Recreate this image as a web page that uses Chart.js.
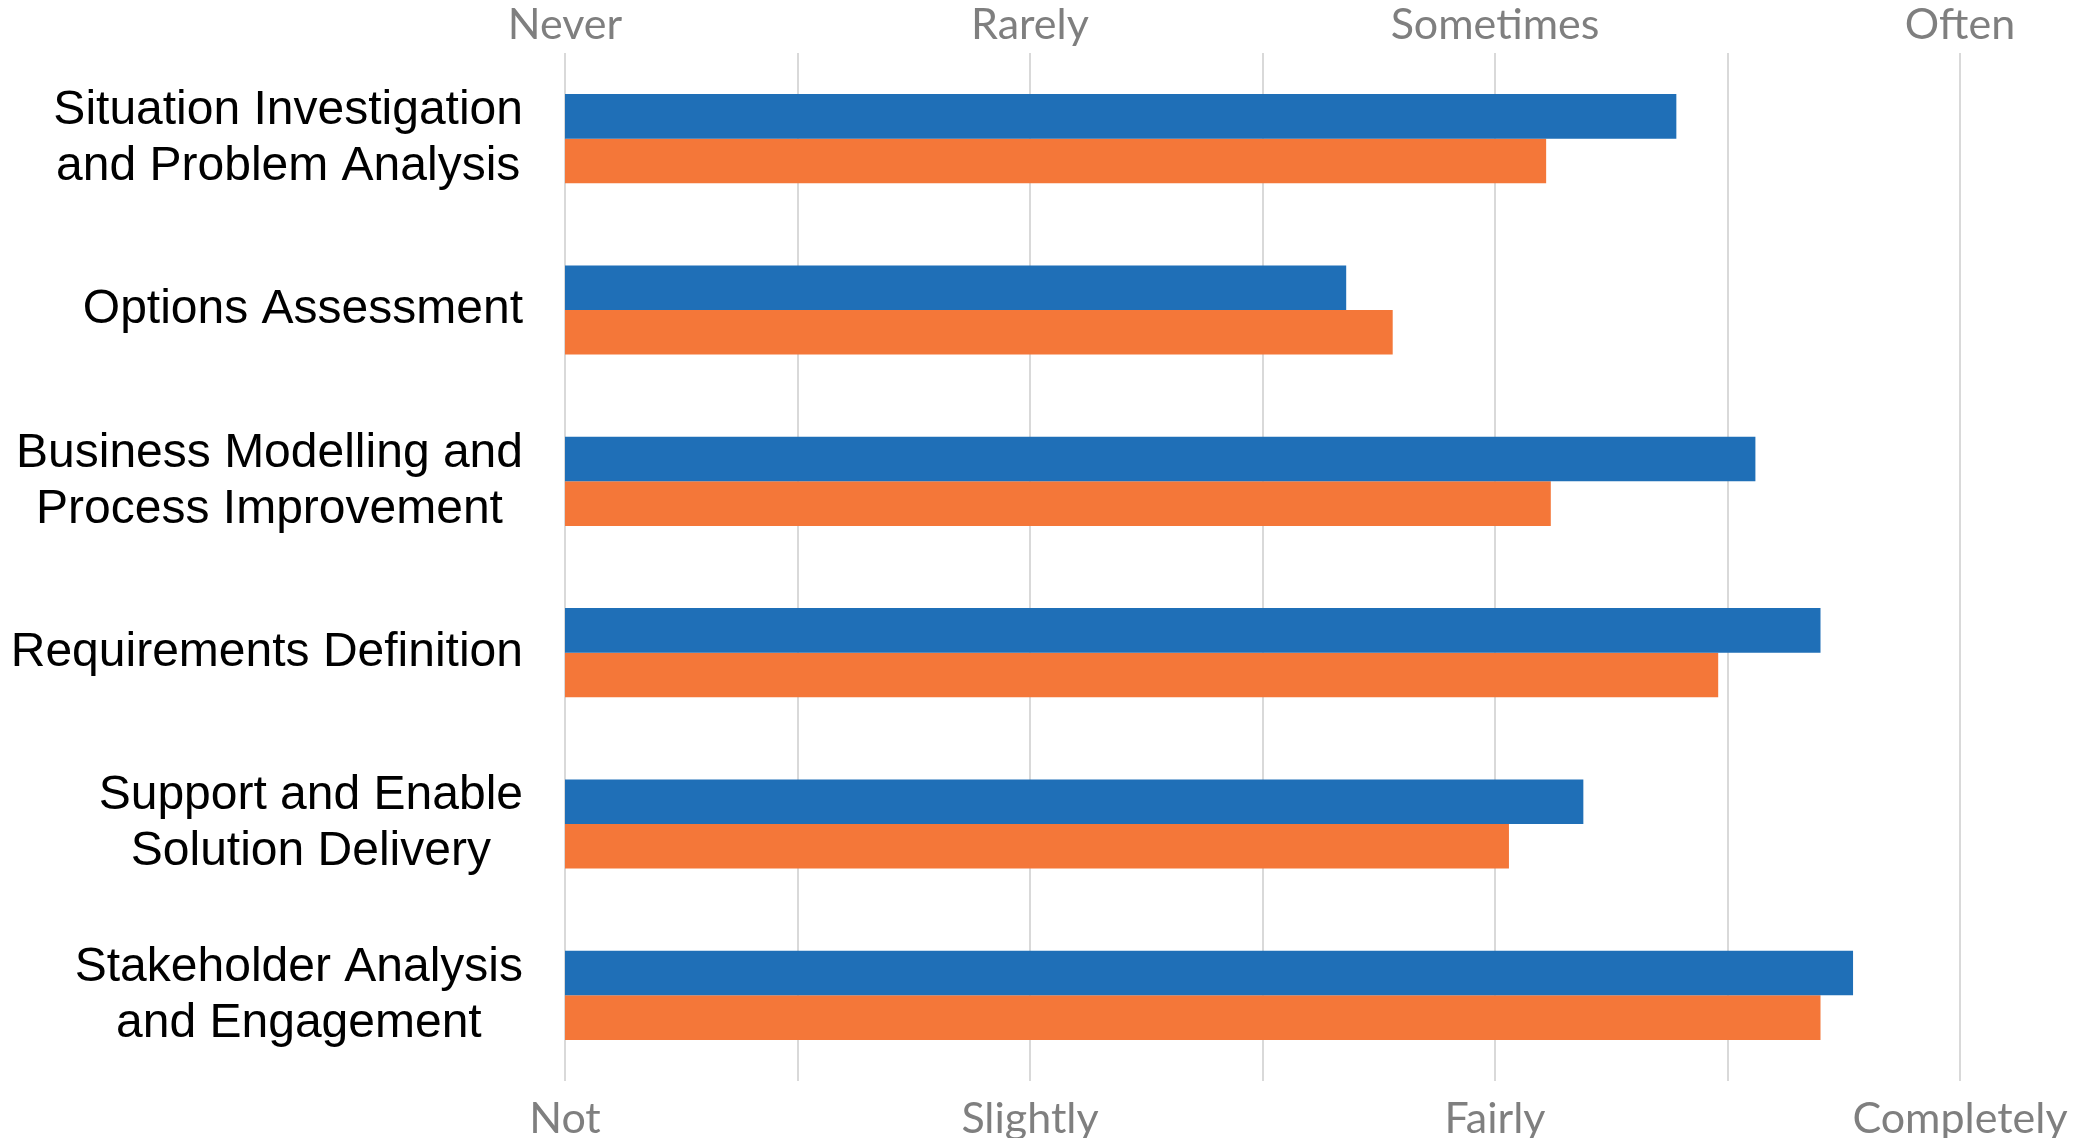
<!DOCTYPE html>
<html>
<head>
<meta charset="utf-8">
<script src="https://cdn.jsdelivr.net/npm/chart.js@4.4.1/dist/chart.umd.min.js"></script>
<style>
  html, body { margin: 0; padding: 0; background: #fff; }
  #wrap { width: 2077px; height: 1138px; }
</style>
</head>
<body>
<div id="wrap"><canvas id="grafico" width="2077" height="1138"></canvas></div>
<script>
const categorias = [
    ['Situation Investigation', 'and Problem Analysis'],
    ['Options Assessment'],
    ['Business Modelling and', 'Process Improvement'],
    ['Requirements Definition'],
    ['Support and Enable', 'Solution Delivery'],
    ['Stakeholder Analysis', 'and Engagement']
]
const frequencia = [3.39, 2.68, 3.56, 3.70, 3.19, 3.77]
const competencia = [3.11, 2.78, 3.12, 3.48, 3.03, 3.70]

const rotulosTopo = ['Never', 'Rarely', 'Sometimes', 'Often']
const rotulosBase = ['Not', 'Slightly', 'Fairly', 'Completely']

const corTick = '#7f7f7f'
const fonteTick = { family: 'Lato', size: 43 }

function rotulo(lista) {
    return (valor, i) => (i % 2 === 0 ? lista[i / 2] : '')
}

function ajustaX(s, altura) {
    s.height = altura
    s.paddingLeft = 0
    s.paddingRight = 0
}

// rótulos do eixo y: bloco alinhado à direita, linhas centralizadas
const rotulosY = {
    id: 'rotulosY',
    afterDraw(chart) {
        const c = chart.ctx
        const y = chart.scales.y
        const direita = chart.chartArea.left - 42
        c.save()
        c.font = '48px "Liberation Sans", Arial, sans-serif'
        c.fillStyle = '#000'
        c.textAlign = 'center'
        c.textBaseline = 'middle'
        categorias.forEach((linhas, i) => {
            const larg = Math.max(...linhas.map(l => c.measureText(l).width))
            const cx = direita - larg / 2
            const cy = y.getPixelForValue(i)
            linhas.forEach((l, j) => {
                c.fillText(l, cx, cy + (j - (linhas.length - 1) / 2) * 56)
            })
        })
        c.restore()
    }
}

const grafico = new Chart(document.getElementById('grafico'), {
    type: 'bar',
    data: {
        labels: categorias,
        datasets: [{
            label: 'Frequency',
            data: frequencia,
            backgroundColor: '#1f6fb7',
            categoryPercentage: 0.52,
            barPercentage: 1.0
        }, {
            label: 'Competence',
            data: competencia,
            backgroundColor: '#f47739',
            categoryPercentage: 0.52,
            barPercentage: 1.0
        }]
    },
    options: {
        indexAxis: 'y',
        responsive: false,
        animation: false,
        layout: { padding: { right: 117, left: 0, top: 0, bottom: 0 } },
        plugins: {
            legend: { display: false },
            tooltip: { enabled: false }
        },
        scales: {
            x: {
                position: 'bottom',
                min: 1,
                max: 4,
                ticks: {
                    stepSize: 0.5,
                    autoSkip: false,
                    maxRotation: 0,
                    color: corTick,
                    font: fonteTick,
                    padding: 12,
                    callback: rotulo(rotulosBase)
                },
                grid: { color: '#d9d9d9', lineWidth: 2, drawTicks: false },
                border: { display: false },
                afterFit: s => ajustaX(s, 57)
            },
            xTopo: {
                position: 'top',
                min: 1,
                max: 4,
                ticks: {
                    stepSize: 0.5,
                    autoSkip: false,
                    maxRotation: 0,
                    color: corTick,
                    font: fonteTick,
                    padding: 2,
                    callback: rotulo(rotulosTopo)
                },
                grid: { display: false, drawTicks: false },
                border: { display: false },
                afterFit: s => ajustaX(s, 53)
            },
            y: {
                ticks: { display: false },
                grid: { display: false },
                border: { display: false },
                afterFit: s => { s.width = 565 }
            }
        }
    },
    plugins: [rotulosY]
})
</script>
</body>
</html>
